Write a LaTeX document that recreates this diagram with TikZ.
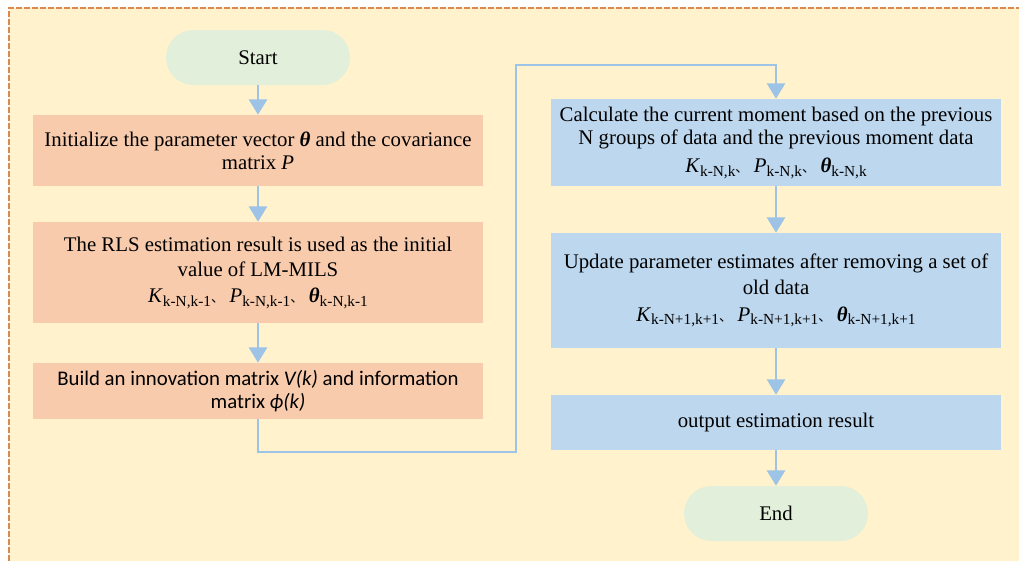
\documentclass[tikz,border=0pt]{standalone}
\usepackage{fontspec}
\setmainfont{Liberation Serif}
\newfontfamily\carl{Carlito}
\newfontfamily\cjk{Noto Sans CJK SC}
\usetikzlibrary{arrows.meta}
\definecolor{bgc}{HTML}{FFF2CC}
\definecolor{bordc}{HTML}{E0884A}
\definecolor{greenc}{HTML}{E2EFDA}
\definecolor{orangec}{HTML}{F8CBAD}
\definecolor{bluec}{HTML}{BDD7EE}
\definecolor{arrc}{HTML}{9DC3E6}
\newcommand{\sbs}[1]{\raisebox{-0.35ex}{\fontsize{11.5}{11.5}\selectfont #1}}
\newcommand{\dun}{{\cjk\fontsize{10}{10}\selectfont 、}}
\newcommand{\bth}{\textbf{\textit{θ}}}
\tikzset{
  txt/.style={font=\fontsize{15.6}{17.4}\selectfont, align=center, inner sep=0pt},
  pill/.style={txt, fill=greenc, rounded corners=20.6pt, minimum width=138pt, minimum height=41.25pt},
  obox/.style={txt, fill=orangec, minimum width=337.5pt},
  bbox/.style={txt, fill=bluec, minimum width=337.5pt},
  arr/.style={draw=arrc, line width=1.9pt, -{Triangle[width=13.5pt,length=11.5pt,fill=arrc]}},
}
\begin{document}
\begin{tikzpicture}[x=0.75pt,y=-0.75pt]
\useasboundingbox (0,0) rectangle (1019,561);
\fill[bgc] (9,8) rectangle (1019,561);
\draw[bordc, line width=0.9pt, dash pattern=on 4.5pt off 1.5pt] (9,561) -- (9,8) -- (1019,8);

\node[pill] (start) at (258,57.5) {Start};
\node[obox, minimum height=53.25pt] (b1) at (258,150.5) {Initialize the parameter vector \bth{} and the covariance\\ matrix \textit{P}};
\node[obox, minimum height=75.75pt] (b2) at (258,272.5) {The RLS estimation result is used as the initial\\[2pt] value of LM-MILS\\[2pt]
\textit{K}\sbs{k-N,k-1}\dun{} \textit{P}\sbs{k-N,k-1}\dun{} \bth\sbs{k-N,k-1}};
\node[obox, minimum height=42pt, font=\carl\fontsize{15.6}{17.4}\selectfont] (b3) at (258,391) {Build an innovation matrix \textit{V(k)} and information\\ matrix \textit{ϕ(k)}};

\node[bbox, minimum height=65.25pt] (b4) at (776,142.5) {Calculate the current moment based on the previous\\ N groups of data and the previous moment data\\[4pt]
\textit{K}\sbs{k-N,k}\dun{} \textit{P}\sbs{k-N,k}\dun{} \bth\sbs{k-N,k}};
\node[bbox, minimum height=86.25pt] (b5) at (776,290.5) {Update parameter estimates after removing a set of\\[2pt] old data\\[3pt]
\textit{K}\sbs{k-N+1,k+1}\dun{} \textit{P}\sbs{k-N+1,k+1}\dun{} \bth\sbs{k-N+1,k+1}};
\node[bbox, minimum height=41.25pt] (b6) at (776,422.5) {output estimation result};
\node[pill] (end) at (776,513.5) {End};

\coordinate (c1) at (516,452);
\coordinate (c2) at (516,65);

\draw[arr] (start) -- (b1);
\draw[arr] (b1) -- (b2);
\draw[arr] (b2) -- (b3);
\draw[arr] (b3.south) |- (c1) -- (c2) -| (b4.north);
\draw[arr] (b4) -- (b5);
\draw[arr] (b5) -- (b6);
\draw[arr] (b6) -- (end);
\end{tikzpicture}
\end{document}
